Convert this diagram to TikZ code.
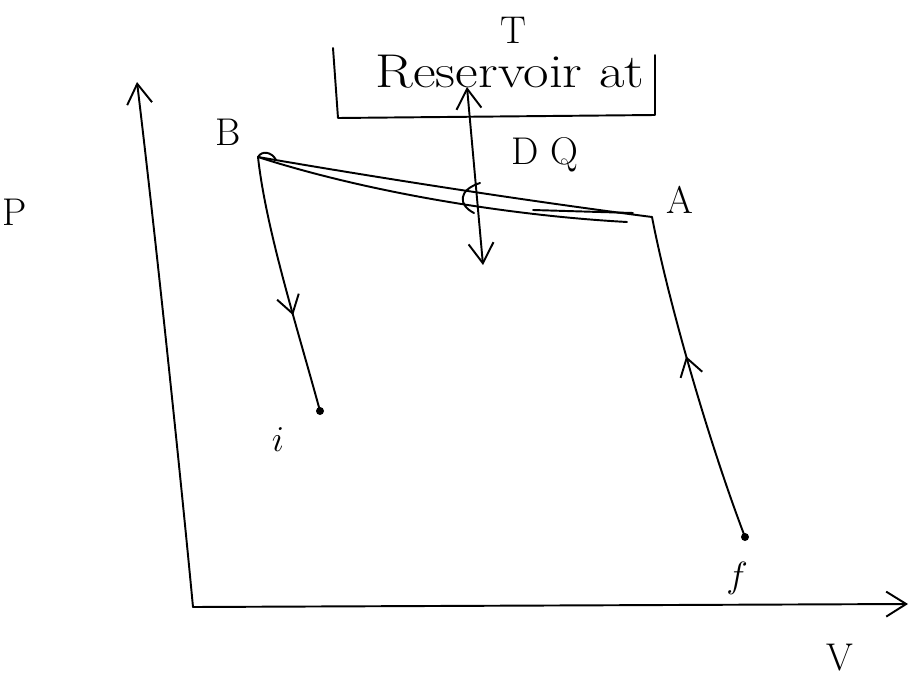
\documentclass[tikz,border=0pt]{standalone}
\usetikzlibrary{arrows.meta,decorations.markings}
\tikzset{
  pen/.style={line width=1.1pt,line cap=round,line join=round},
  axis/.style={pen,-{Straight Barb[length=4mm,width=5mm]}},
  twoway/.style={pen,{Straight Barb[length=4mm,width=5mm]}-{Straight Barb[length=4mm,width=5mm]}},
  midarrow/.style={postaction={decorate},decoration={markings,
      mark=at position #1 with {\arrow{Straight Barb[length=3.5mm,width=4.5mm]}}}},
  lbl/.style={font=\fontsize{22}{26}\selectfont},
  restext/.style={font=\fontsize{27}{32}\selectfont,xscale=1.17,transform shape},
}
\begin{document}
\begin{tikzpicture}[x=0.02cm,y=-0.02cm]
  \useasboundingbox (0,0) rectangle (910,676);
  \def\dotr{4}
  % axes
  \coordinate (O) at (193,607);
  \coordinate (Ptop) at (137,82);
  \coordinate (Vend) at (908,604);
  % states
  \coordinate (B) at (258,157);
  \coordinate (A) at (652,217);
  \coordinate (I) at (320,411);
  \coordinate (F) at (745,537);
  % reservoir bracket
  \coordinate (RTL) at (333,48);
  \coordinate (RBL) at (338,118);
  \coordinate (RBR) at (655,115);
  \coordinate (RTR) at (655,55);
  % heat arrow
  \coordinate (Qtop) at (467,87);
  \coordinate (Qbot) at (483,265);
  \draw[axis] (O) .. controls (180,470) and (156,240) .. (Ptop);
  \draw[axis] (O) -- (Vend);
  \draw[pen] (RTL) -- (RBL) -- (RBR) -- (RTR);
  \draw[twoway] (Qtop) -- (Qbot);
  \draw[pen] (B) .. controls (380,178) and (520,200) .. (A);
  \draw[pen] (B) .. controls (360,190) and (500,215) .. (627,222);
  \draw[pen] (533,210) -- (633,213);
  \draw[pen] (480,183) .. controls (458,190) and (458,205) .. (474,213);
  \draw[pen] (B) .. controls (262,150) and (272,152) .. (276,160);
  \draw[pen,midarrow=0.62] (B) .. controls (266,230) and (298,330) .. (I);
  \draw[pen,midarrow=0.57] (F) .. controls (708,440) and (668,300) .. (A);
  \fill (I) circle (\dotr);
  \fill (F) circle (\dotr);
  \node[lbl] (Tlab) at (513,30) {T};
  \node[restext] (res) at (510,72) {Reservoir at};
  \node[lbl] (dq) at (545,155) {D Q};
  \node[lbl] (plab) at (15,212) {P};
  \node[lbl] (vlab) at (840,658) {V};
  \node[lbl] (blab) at (228,132) {B};
  \node[lbl] (alab) at (680,200) {A};
  \node[lbl] (ilab) at (278,440) {$i$};
  \node[lbl] (flab) at (737,578) {$f$};
\end{tikzpicture}
\end{document}
